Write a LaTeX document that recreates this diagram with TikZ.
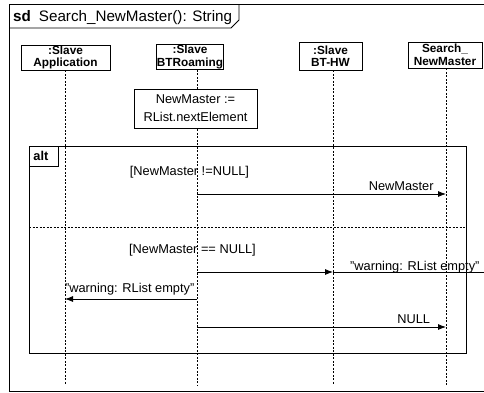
\documentclass[tikz,border=0pt]{standalone}
\usepackage{fontspec}
\setmainfont{Liberation Sans}
\usetikzlibrary{positioning}
\usetikzlibrary{arrows.meta}

\begin{document}
\begin{tikzpicture}[x=1pt, y=-1pt,
       every node/.style={inner sep=0pt, font=\fontsize{12.8}{15}\selectfont},
       object/.style={draw,
                      line width=0.9pt,
                      fill=white,
                      align=center,
                      minimum height=25pt,
                      font=\fontsize{11.8}{12.5}\selectfont\bfseries},
       lifeline/.style={line width=0.8pt, dash pattern=on 2pt off 1.5pt},
       msg/.style={line width=0.8pt, -{Latex[length=8pt, width=6pt]}}]

       \useasboundingbox (0,0) rectangle (484,392);
       \clip (0,0) rectangle (484,392);

       % frame
       \draw[line width=1pt] (9,4) rectangle (500,391);
       \draw[line width=0.9pt] (9,28) -- (231,28) -- (239,20) -- (239,4);
       \node[anchor=base west] (title) at (13,21.5) {\fontsize{15.2}{17}\selectfont\textbf{sd}\hspace{8pt}Search\_NewMaster(): String};

       % objects
       \node[object, minimum width=89pt] (app) at (65.5,57.5) {:Slave\\Application};
       \node[object, minimum width=64pt] (btr) at (190,57) {:Slave\\BTRoaming};
       \node[object, minimum width=63pt, minimum height=28pt] (bthw) at (330.5,56) {:Slave\\BT-HW};
       \node[object, minimum width=74pt, minimum height=26pt] (snm) at (445,55) {Search\_\\NewMaster};

       % lifelines
       \coordinate (appEnd) at (65,385);
       \coordinate (btrEnd) at (197,385);
       \coordinate (bthwEnd) at (333,385);
       \coordinate (snmEnd) at (446,385);
       \draw[lifeline] (app.south -| appEnd) -- (appEnd);
       \draw[lifeline] (btr.south -| btrEnd) -- (btrEnd);
       \draw[lifeline] (bthw.south -| bthwEnd) -- (bthwEnd);
       \draw[lifeline] (snm.south -| snmEnd) -- (snmEnd);

       \node[draw,
             line width=0.8pt,
             fill=white,
             minimum width=123pt,
             minimum height=39pt,
             align=center,
             font=\fontsize{12.8}{18}\selectfont] (next) at (195.5,108.5) {NewMaster :=\\RList.nextElement};

       % alt fragment
       \draw[line width=0.8pt] (29,146) rectangle (466,353);
       \node[draw,
             line width=0.8pt,
             anchor=north west,
             minimum height=20pt,
             inner xsep=4pt,
             text width=21pt,
             align=left,
             font=\fontsize{12.8}{15}\selectfont\bfseries] (alt) at (29,146) {alt};
       \draw[lifeline] (29,227) -- (466,227);
       \node (guard1) at (189.5,172) {[NewMaster !=NULL]};
       \node (guard2) at (192.5,250) {[NewMaster == NULL]};

       % messages
       \coordinate (btr1) at (197,194);
       \coordinate (snm1) at (446,194);
       \draw[msg] (btr1) -- node[pos=0.82, anchor=base, yshift=4pt] {NewMaster} (snm1);

       \coordinate (btr2) at (197,272);
       \coordinate (bthw2) at (333,272);
       \coordinate (away2) at (500,272);
       \draw[msg] (btr2) -- (bthw2);
       \draw[line width=0.8pt] (bthw2) -- node[pos=0.49, anchor=base, yshift=1.5pt] {"warning: RList empty"} (away2);

       \coordinate (btr3) at (197,299);
       \coordinate (app3) at (65,299);
       \draw[msg] (btr3) -- node[pos=0.51, anchor=base, yshift=6.5pt] {"warning: RList empty"} (app3);

       \coordinate (btr4) at (197,327);
       \coordinate (snm4) at (446,327);
       \draw[msg] (btr4) -- node[pos=0.87, anchor=base, yshift=4pt] {NULL} (snm4);
\end{tikzpicture}
\end{document}
